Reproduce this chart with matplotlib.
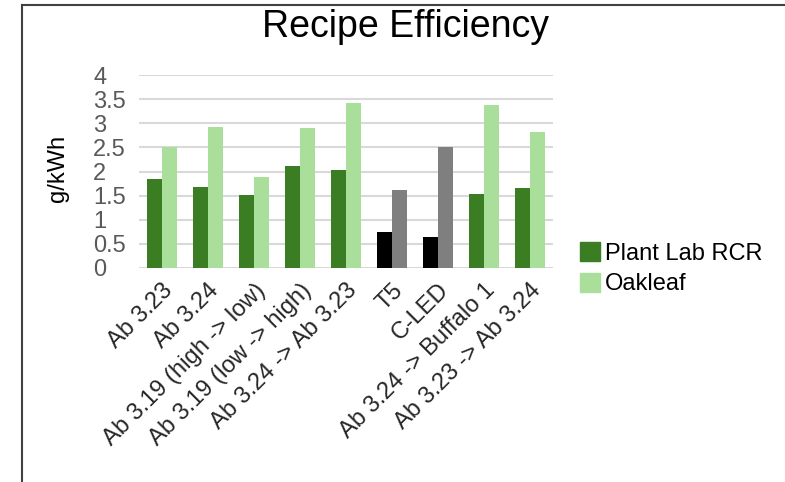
import numpy as np
import matplotlib.pyplot as plt
from matplotlib.lines import Line2D
from matplotlib.patches import Patch

plt.rcParams["font.family"] = ["Liberation Sans", "DejaVu Sans"]

categories = ["Ab 3.23", "Ab 3.24", "Ab 3.19 (high -> low)", "Ab 3.19 (low -> high)",
              "Ab 3.24 -> Ab 3.23", "T5", "C-LED", "Ab 3.24 -> Buffalo 1", "Ab 3.23 -> Ab 3.24"]
plant_lab = [1.85, 1.68, 1.52, 2.12, 2.03, 0.75, 0.64, 1.54, 1.66]
oakleaf = [2.51, 2.93, 1.89, 2.90, 3.43, 1.62, 2.51, 3.38, 2.82]
# T5 and C-LED are drawn in black / grey instead of green
dark_colors = ["#3b7d23"] * 5 + ["#000000"] * 2 + ["#3b7d23"] * 2
light_colors = ["#a9df9b"] * 5 + ["#7f7f7f"] * 2 + ["#a9df9b"] * 2

fig = plt.figure(figsize=(7.85, 4.82), dpi=100)
ax = fig.add_axes([139/785, 1 - 268/482, (553-139)/785, (268-75)/482])

x = np.arange(len(categories))
w = 0.33
ax.bar(x - 0.165, plant_lab, w, color=dark_colors, zorder=3)
ax.bar(x + 0.165, oakleaf, w, color=light_colors, zorder=3)

ax.set_xlim(-0.5, len(categories) - 0.5)
ax.set_ylim(0, 4)
ax.set_yticks(np.arange(0, 4.01, 0.5))
ax.set_yticklabels(["0", "0.5", "1", "1.5", "2", "2.5", "3", "3.5", "4"])
ax.yaxis.grid(True, color="#d9d9d9", linewidth=1.5, zorder=0)
for s in ax.spines.values():
    s.set_visible(False)
ax.tick_params(axis="y", length=0, pad=33, labelsize=17, labelcolor="#595959")
for lab in ax.get_yticklabels():
    lab.set_horizontalalignment("left")
ax.set_xticks(x)
ax.set_xticklabels(categories, rotation=45, ha="right", rotation_mode="anchor",
                   fontsize=17, color="#262626")
ax.tick_params(axis="x", length=0, pad=8)
ax.set_ylabel("g/kWh", fontsize=17)
ax.yaxis.set_label_coords(69/785, 1 - 168/482, transform=fig.transFigure)

fig.text(405/785, 1 - 37/482, "Recipe Efficiency", ha="center", va="baseline", fontsize=27)

handles = [Patch(color="#3b7d23", label="Plant Lab RCR"),
           Patch(color="#a9df9b", label="Oakleaf")]
fig.legend(handles=handles, loc="upper left", bbox_to_anchor=(580/785, 1 - 242/482),
           frameon=False, fontsize=17, handlelength=0.85, handleheight=0.85,
           handletextpad=0.2, labelspacing=0.35, borderpad=0, borderaxespad=0)

# frame lines of the original screenshot
fig.add_artist(Line2D([22/785, 22/785], [0, 1 - 5/482], color="#404040", linewidth=1.5))
fig.add_artist(Line2D([22/785, 1], [1 - 5/482, 1 - 5/482], color="#404040", linewidth=1.5))

fig.savefig("out.png", dpi=100)
